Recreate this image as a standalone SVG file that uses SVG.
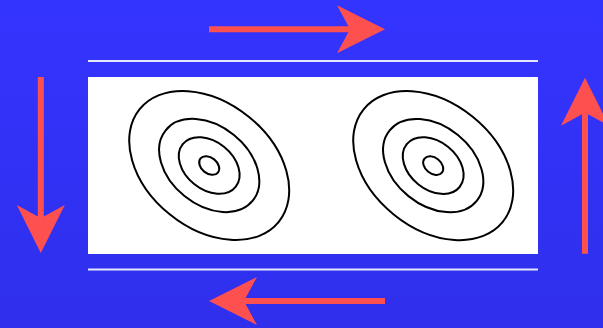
<svg xmlns="http://www.w3.org/2000/svg" width="603" height="328" viewBox="0 0 603 328">
<defs>
<linearGradient id="bg" x1="0" y1="0" x2="0" y2="1">
<stop offset="0" stop-color="#3434ff"/>
<stop offset="1" stop-color="#2f2fec"/>
</linearGradient>
<path id="arrow" d="M-176,-3 L-36.6,-3 L-48,-24 L0,0 L-48,24 L-36.6,3 L-176,3 Z"/>
<g id="rings">
<ellipse cx="0" cy="0" rx="89.5" ry="62.8"/>
<ellipse cx="0" cy="0" rx="56" ry="39.3"/>
<ellipse cx="0" cy="0" rx="34" ry="23.9"/>
<ellipse cx="0" cy="0" rx="11.2" ry="7.9"/>
</g>
</defs>
<style>
.arr{fill:#ff5050;stroke:none}
.rule{stroke:#e6e6ff;stroke-width:2}
.panel{fill:#ffffff}
.ring{fill:none;stroke:#000000;stroke-width:2}
</style>
<rect x="0" y="0" width="603" height="328" fill="url(#bg)"/>
<g id="rules">
<line class="rule" x1="88" y1="61" x2="538" y2="61"/>
<line class="rule" x1="88" y1="269.5" x2="538" y2="269.5"/>
</g>
<g id="panel-left">
<rect class="panel" x="88" y="77" width="225.5" height="177"/>
<use href="#rings" class="ring" transform="translate(209.2,165.5) rotate(39)"/>
</g>
<g id="panel-right">
<rect class="panel" x="313" y="77" width="225" height="177"/>
<use href="#rings" class="ring" transform="translate(433.2,165.6) rotate(39)"/>
</g>
<g id="connectors">
<use href="#arrow" class="arr" transform="translate(385,29.3)"/>
<use href="#arrow" class="arr" transform="translate(585,77.7) rotate(-90)"/>
<use href="#arrow" class="arr" transform="translate(209,301) rotate(180)"/>
<use href="#arrow" class="arr" transform="translate(40.8,253) rotate(90)"/>
</g>
</svg>
